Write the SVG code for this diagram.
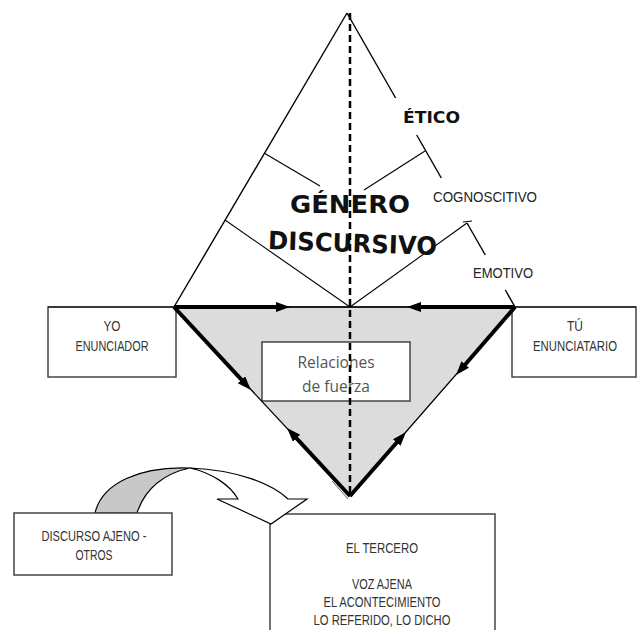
<svg xmlns="http://www.w3.org/2000/svg" width="641" height="630" viewBox="0 0 641 630">
<style>
.ln{stroke:#000;stroke-width:1.4;fill:none}
.thin{stroke:#000;stroke-width:1.1;fill:none}
.thick{stroke:#000;stroke-width:4;fill:none;marker-end:url(#ah)}
.box{fill:#fff;stroke:#444;stroke-width:1.5}
.bt{font-family:"Liberation Sans",Arial,sans-serif;font-size:15px;fill:#333;text-anchor:middle}
.lbl{font-family:"Liberation Sans",Arial,sans-serif;font-size:15px;fill:#222}
.eti{font-family:"DejaVu Sans",Verdana,sans-serif;font-weight:bold;font-size:15px;fill:#111}
.big{font-family:"DejaVu Sans",Verdana,sans-serif;font-weight:bold;font-size:25px;fill:#111}
.rel{font-family:"Open Sans","Noto Sans",sans-serif;font-size:15.5px;fill:#555;text-anchor:middle}
</style>
<defs>
<marker id="ah" markerUnits="userSpaceOnUse" markerWidth="16" markerHeight="12" refX="2" refY="5" orient="auto">
<path d="M0,0 L14,5 L0,10 Z" fill="#000"/>
</marker>
</defs>
<rect width="641" height="630" fill="#fff"/>

<g id="relaciones-area">
<polygon points="174,307 515,307 350,496" fill="#dcdcdc"/>
</g>

<g id="genero">
<line class="ln" x1="347" y1="13" x2="174" y2="307"/>
<line class="ln" x1="347" y1="13" x2="395.6" y2="98"/>
<line class="ln" x1="416.7" y1="135" x2="441.3" y2="178"/>
<line class="ln" x1="467" y1="223" x2="485.3" y2="255"/>
<line class="ln" x1="505.3" y1="290" x2="515" y2="307"/>
<line class="thin" x1="264" y1="153" x2="320" y2="186"/>
<line class="thin" x1="364" y1="190" x2="425" y2="151"/>
<line class="thin" x1="225" y1="220" x2="350" y2="307"/>
<line class="thin" x1="350" y1="307" x2="467" y2="223"/>
<line class="thin" x1="463" y1="222" x2="472" y2="221"/>
<text class="big" x="290" y="213" textLength="120" lengthAdjust="spacingAndGlyphs">GÉNERO</text>
<text class="big" x="268" y="252" textLength="169" lengthAdjust="spacingAndGlyphs" transform="rotate(2 352 242)">DISCURSIVO</text>
</g>

<g id="etico"><text class="eti" x="403" y="123" textLength="57" lengthAdjust="spacingAndGlyphs">ÉTICO</text></g>
<g id="cognoscitivo"><text class="lbl" x="433" y="202" textLength="104" lengthAdjust="spacingAndGlyphs">COGNOSCITIVO</text></g>
<g id="emotivo"><text class="lbl" x="473" y="278" textLength="60" lengthAdjust="spacingAndGlyphs">EMOTIVO</text></g>

<g id="yo">
<rect class="box" x="48" y="307" width="128" height="70"/>
<text class="bt" x="112" y="331" textLength="17" lengthAdjust="spacingAndGlyphs">YO</text>
<text class="bt" x="112" y="351" textLength="73" lengthAdjust="spacingAndGlyphs">ENUNCIADOR</text>
</g>

<g id="tu">
<rect class="box" x="512" y="307" width="124" height="70"/>
<text class="bt" x="575" y="331" textLength="16" lengthAdjust="spacingAndGlyphs">TÚ</text>
<text class="bt" x="575" y="351" style="font-size:14px" textLength="84" lengthAdjust="spacingAndGlyphs">ENUNCIATARIO</text>
</g>

<g id="relaciones">
<rect class="box" x="262" y="342" width="148" height="59" stroke="#555"/>
<text class="rel" x="336" y="368">Relaciones</text>
<text class="rel" x="336" y="392">de fuerza</text>
</g>

<g id="connectors">
<line x1="48" y1="307" x2="636" y2="307" stroke="#000" stroke-width="1.2"/>
<polygon points="174,307 515,307 350,496" fill="none" stroke="#000" stroke-width="1.3"/>
<line x1="332" y1="481" x2="348" y2="499" stroke="#666" stroke-width="1"/>
<line class="thick" x1="174" y1="307" x2="278" y2="307"/>
<line class="thick" x1="515" y1="307" x2="419" y2="307"/>
<line class="thick" x1="174" y1="307" x2="242.8" y2="381.2"/>
<line class="thick" x1="350" y1="496" x2="295.2" y2="436.8"/>
<line class="thick" x1="515" y1="307" x2="463.9" y2="366"/>
<line class="thick" x1="350" y1="496" x2="398.1" y2="441"/>
<line x1="350" y1="13" x2="350" y2="497" stroke="#000" stroke-width="2.5" stroke-dasharray="7 4"/>
</g>

<g id="tercero">
<rect class="box" x="270" y="514" width="225" height="130"/>
<text class="bt" x="382" y="553" textLength="72" lengthAdjust="spacingAndGlyphs">EL TERCERO</text>
<text class="bt" x="382" y="589" textLength="60" lengthAdjust="spacingAndGlyphs">VOZ AJENA</text>
<text class="bt" x="382" y="607" textLength="117" lengthAdjust="spacingAndGlyphs">EL ACONTECIMIENTO</text>
<text class="bt" x="382" y="625" textLength="137" lengthAdjust="spacingAndGlyphs">LO REFERIDO, LO DICHO</text>
</g>

<g id="curved-arrow">
<path d="M95,513 C102,483 140,466 190,468 C165,473 145,488 137,513 Z" fill="#c8c8c8" stroke="#000" stroke-width="1.2"/>
<path d="M190,468 C238,470 272,484 288,499 L307,499 L271,524 L217,499 L238,499 C230,485 212,473 190,468 Z" fill="#fff" stroke="#000" stroke-width="1.2"/>
</g>

<g id="discurso-ajeno">
<rect class="box" x="14" y="513" width="158" height="62"/>
<text class="bt" x="94" y="541" textLength="105" lengthAdjust="spacingAndGlyphs">DISCURSO AJENO -</text>
<text class="bt" x="94" y="560" textLength="37" lengthAdjust="spacingAndGlyphs">OTROS</text>
</g>
</svg>
